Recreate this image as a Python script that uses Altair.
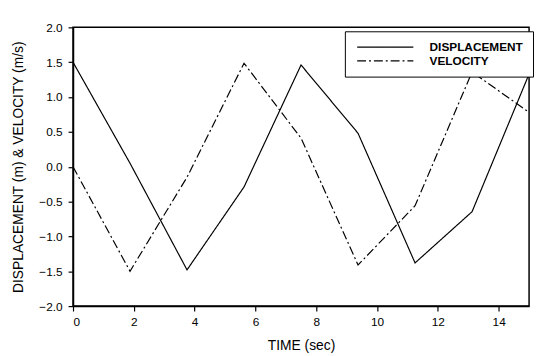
import altair as alt
import pandas as pd

time = [0, 1.875, 3.75, 5.625, 7.5, 9.375, 11.25, 13.125, 15]
displacement = [1.5, 0.05, -1.48, -0.29, 1.46, 0.48, -1.38, -0.645, 1.33]
velocity = [0.0, -1.5, -0.15, 1.485, 0.41, -1.41, -0.56, 1.36, 0.78]
series = ["DISPLACEMENT", "VELOCITY"]
x_ticks = [0, 2, 4, 6, 8, 10, 12, 14]
y_ticks = [-2, -1.5, -1, -0.5, 0, 0.5, 1, 1.5, 2]

rows = []
for t, d, v in zip(time, displacement, velocity):
    rows.append({"t": t, "value": d, "series": series[0]})
    rows.append({"t": t, "value": v, "series": series[1]})
df = pd.DataFrame(rows)

FONT = "Liberation Sans"

chart = alt.Chart(df).mark_line(color="black", strokeWidth=1.2).encode(
    x=alt.X("t:Q", scale=alt.Scale(domain=[0, 15], nice=False, zero=False),
            axis=alt.Axis(title="TIME (sec)", values=x_ticks,
                          format="d", grid=False, tickSize=5, labelPadding=6,
                          titlePadding=11)),
    y=alt.Y("value:Q", scale=alt.Scale(domain=[-2, 2], nice=False),
            axis=alt.Axis(title="DISPLACEMENT (m) & VELOCITY (m/s)",
                          values=y_ticks,
                          format=".1f", grid=False, tickSize=5, labelPadding=6,
                          titlePadding=14)),
    strokeDash=alt.StrokeDash("series:N",
        scale=alt.Scale(domain=series, range=[[1, 0], [9, 3, 2, 3]]),
        legend=alt.Legend(title=None, orient="none", legendX=276, legendY=4,
                          symbolType="M-6,0H6", symbolSize=90.25, symbolStrokeWidth=1.2,
                          symbolStrokeColor="black", labelFontSize=12, labelFontWeight="bold",
                          labelFont=FONT, labelColor="black", symbolOffset=25, labelOffset=39,
                          rowPadding=2, padding=10, strokeColor="black", fillColor="white")),
    order="t:Q",
).properties(
    width=463, height=283,
    autosize=alt.AutoSizeParams(type="none"),
    padding={"left": 66, "top": 17, "right": 5, "bottom": 48},
).configure_view(
    stroke="black", strokeWidth=1.5
).configure_axis(
    domainColor="black", tickColor="black", labelColor="black", titleColor="black",
    labelFont=FONT, titleFont=FONT, labelFontSize=12, titleFontSize=14,
    titleFontWeight="normal", labelFontWeight="normal", domainWidth=1.5, tickWidth=1.2
)

chart.save("out.html", embed_options={"renderer": "svg", "actions": False})
